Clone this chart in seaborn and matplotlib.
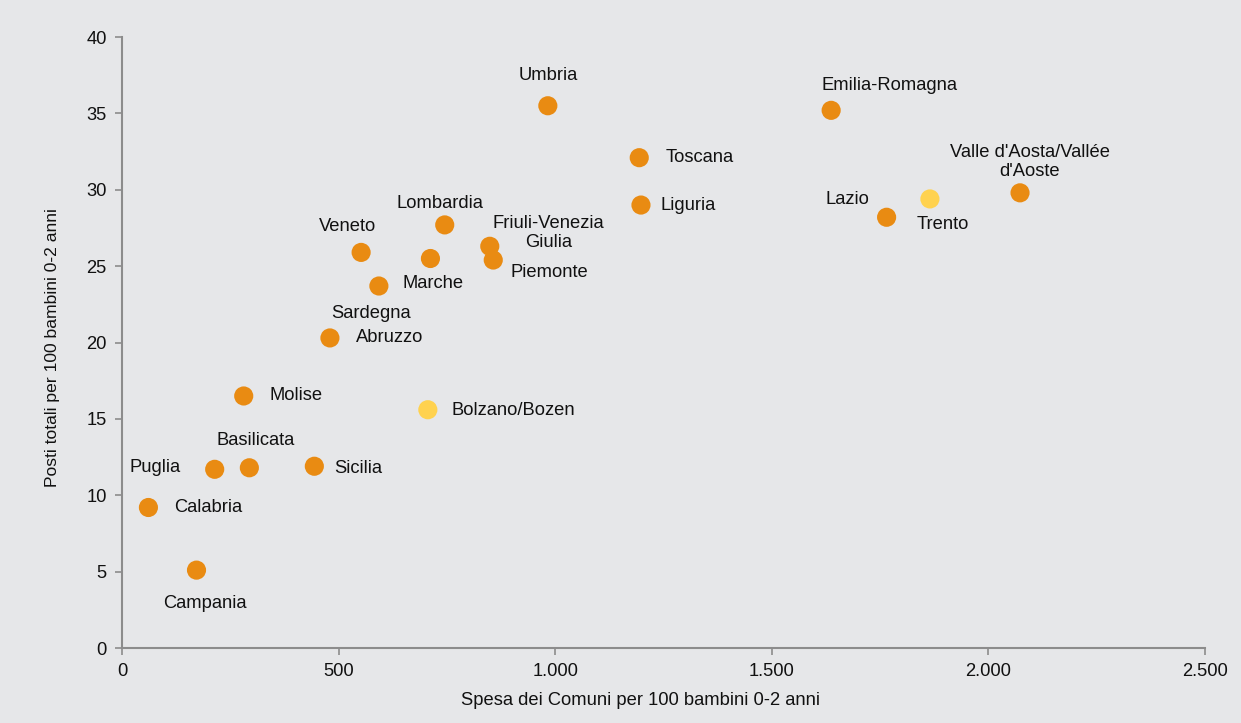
import matplotlib
matplotlib.use("Agg")
import matplotlib.pyplot as plt
from matplotlib.ticker import FuncFormatter
import seaborn as sns
import pandas as pd

# data
regions = ["Umbria", "Emilia-Romagna", "Toscana", "Liguria", "Valle d'Aosta/Vallée\nd'Aoste",
           "Trento", "Lazio", "Lombardia", "Friuli-Venezia\nGiulia", "Piemonte", "Veneto",
           "Sardegna", "Marche", "Abruzzo", "Molise", "Bolzano/Bozen", "Puglia", "Basilicata",
           "Sicilia", "Calabria", "Campania"]
spesa = [983, 1637, 1194, 1198, 2073, 1865, 1765, 745, 849, 857, 552,
         712, 593, 480, 281, 706, 214, 294, 444, 61, 172]
posti = [35.5, 35.2, 32.1, 29.0, 29.8, 29.4, 28.2, 27.7, 26.3, 25.4, 25.9,
         25.5, 23.7, 20.3, 16.5, 15.6, 11.7, 11.8, 11.9, 9.2, 5.1]
tipo = ["Regione"] * 5 + ["Provincia"] + ["Regione"] * 9 + ["Provincia"] + ["Regione"] * 5

x_ticks = [0, 500, 1000, 1500, 2000, 2500]
y_ticks = [0, 5, 10, 15, 20, 25, 30, 35, 40]

# label placement: (ha, dx, dy) in pixels, dy measured downward
label_pos = {
    "Umbria": ("center", 0, -30),
    "Emilia-Romagna": ("center", 58, -25),
    "Toscana": ("left", 26, 0),
    "Liguria": ("left", 20, 0),
    "Valle d'Aosta/Vallée\nd'Aoste": ("center", 10, -31),
    "Trento": ("center", 13, 26),
    "Lazio": ("center", -39, -18),
    "Lombardia": ("center", -5, -21),
    "Friuli-Venezia\nGiulia": ("center", 59, -13),
    "Piemonte": ("left", 17, 12),
    "Veneto": ("center", -14, -26),
    "Sardegna": ("center", -59, 55),
    "Marche": ("left", 24, -3),
    "Abruzzo": ("left", 26, 0),
    "Molise": ("left", 26, 0),
    "Bolzano/Bozen": ("left", 24, 1),
    "Puglia": ("right", -34, -2),
    "Basilicata": ("center", 6, -27),
    "Sicilia": ("left", 20, 2),
    "Calabria": ("left", 26, 0),
    "Campania": ("center", 8, 33),
}

df = pd.DataFrame({"regione": regions, "spesa": spesa, "posti": posti, "tipo": tipo})

bg = "#e6e7e9"
txt = "#111111"
fs = 13.2
sns.set_theme(style="white", rc={"axes.facecolor": bg, "figure.facecolor": bg})
plt.rcParams["font.family"] = ["Liberation Sans", "DejaVu Sans"]

fig = plt.figure(figsize=(12.41, 7.23), dpi=100)
ax = fig.add_axes([0.0983, 0.1037, 0.8727, 0.8451])

sns.scatterplot(data=df, x="spesa", y="posti", hue="tipo",
                palette={"Regione": "#e98b12", "Provincia": "#ffd24f"},
                s=190, linewidth=0, legend=False, ax=ax, zorder=3)

for _, row in df.iterrows():
    ha, dx, dy = label_pos[row["regione"]]
    ax.annotate(row["regione"], (row["spesa"], row["posti"]),
                xytext=(dx, -dy), textcoords="offset pixels",
                ha=ha, va="center", multialignment="center",
                fontsize=fs, color=txt, linespacing=1.15)

ax.set_xlim(0, 2500)
ax.set_ylim(0, 40)
ax.set_xticks(x_ticks)
ax.set_yticks(y_ticks)
ax.xaxis.set_major_formatter(FuncFormatter(lambda v, p: f"{int(v):,}".replace(",", ".")))

for side in ["top", "right"]:
    ax.spines[side].set_visible(False)
for side in ["left", "bottom"]:
    ax.spines[side].set_color("#8c8c8c")
    ax.spines[side].set_linewidth(1.5)
ax.tick_params(axis="both", which="major", direction="out", length=5, width=1.2,
               color="#8c8c8c", labelsize=fs, labelcolor=txt, pad=6)
ax.tick_params(axis="both", bottom=True, left=True)

ax.set_xlabel("Spesa dei Comuni per 100 bambini 0-2 anni", fontsize=fs, color=txt)
ax.set_ylabel("Posti totali per 100 bambini 0-2 anni", fontsize=12.6, color=txt)
ax.xaxis.set_label_coords(0.479, -0.072)
ax.yaxis.set_label_coords(-0.057, 0.491)

fig.savefig("out.png", dpi=100, facecolor=bg)
